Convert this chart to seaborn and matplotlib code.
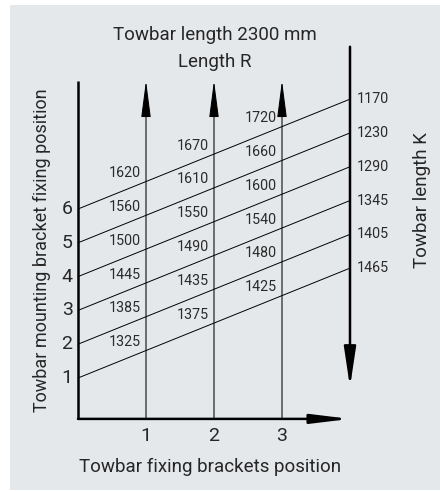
import numpy as np
import pandas as pd
import seaborn as sns
import matplotlib.pyplot as plt
from matplotlib.patches import Rectangle

# Data
positions = [1, 2, 3, 4, 5, 6]                 # mounting bracket fixing position
end_heights = [4.25, 5.25, 6.25, 7.25, 8.25, 9.25]  # where each line meets the K axis
bracket_pos = [1, 2, 3]                        # fixing brackets position
length_r = [
    [1325, 1375, 1425],
    [1385, 1435, 1480],
    [1445, 1490, 1540],
    [1500, 1550, 1600],
    [1560, 1610, 1660],
    [1620, 1670, 1720],
]
length_k = [1465, 1405, 1345, 1290, 1230, 1170]

sns.set_theme(style="white")
plt.rcParams['font.family'] = ['Roboto', 'DejaVu Sans']

BG = '#e5e8eb'
X_END = 4.0
AX_Y = -0.21
BIG = 13.5
SMALL = 10.3

fig = plt.figure(figsize=(4.4, 4.91), dpi=100)
fig.patch.set_facecolor('white')

ax = fig.add_axes([0, 0, 1, 1])
ax.set_facecolor('none')
ax.set_xlim(-78 / 68, (440 - 78) / 68)
ax.set_ylim(-(491 - 411.8) / 33.8, 411.8 / 33.8)
ax.axis('off')

# grey panel behind everything
ax.add_patch(Rectangle((10 / 440, 1 / 491), 430 / 440, 485 / 491,
                       transform=fig.transFigure, facecolor=BG,
                       edgecolor='none', zorder=-5, clip_on=False))

# slanted lines
rows = []
for p, e in zip(positions, end_heights):
    rows.append({'x': 0.0, 'y': p, 'pos': p})
    rows.append({'x': X_END, 'y': e, 'pos': p})
df = pd.DataFrame(rows)
sns.lineplot(data=df, x='x', y='y', units='pos', estimator=None,
             color='black', lw=0.7, ax=ax, legend=False)

def arrow(x0, y0, x1, y1, lw, hl, hw):
    ax.annotate('', xy=(x1, y1), xytext=(x0, y0),
                arrowprops=dict(arrowstyle=f'-|>,head_length={hl},head_width={hw}',
                                color='black', lw=lw, shrinkA=0, shrinkB=0,
                                mutation_scale=10))

# axes
ax.plot([0, 0], [AX_Y, 9.8], color='black', lw=1.8, solid_capstyle='butt')
arrow(0, AX_Y, X_END, AX_Y, 1.8, 2.3, 0.28)
# vertical arrows for bracket positions
for c in bracket_pos:
    arrow(c, AX_Y, c, 9.8, 0.75, 2.3, 0.3)
# down arrow for length K
arrow(X_END, 10.8, X_END, 0.73, 1.8, 2.4, 0.36)

# labels on the lines (length R)
for p, e, vals in zip(positions, end_heights, length_r):
    for c, v in zip(bracket_pos, vals):
        xc = c - 0.31
        yc = p + (e - p) * xc / X_END + 0.5
        ax.text(xc, yc, str(v), ha='center', va='center', fontsize=SMALL,
                color='#2a2a2a')

# length K labels
for e, v in zip(end_heights, length_k):
    ax.text(X_END + 0.1, e, str(v), ha='left', va='center', fontsize=SMALL,
            color='#2a2a2a')

# tick labels
for p in positions:
    ax.text(-0.08, p, str(p), ha='right', va='center', fontsize=BIG + 0.5)
for c in bracket_pos:
    ax.text(c, -0.72, str(c), ha='center', va='center', fontsize=BIG + 0.5)

# titles
ax.text(2.01, 11.15, 'Towbar length 2300 mm', ha='center', va='center', fontsize=BIG)
ax.text(2.01, 10.35, 'Length R', ha='center', va='center', fontsize=BIG)
ax.text(-0.53, 4.79, 'Towbar mounting bracket fixing position', ha='center',
        va='center', rotation=90, fontsize=BIG - 0.5)
ax.text(5.06, 6.27, 'Towbar length K', ha='center', va='center',
        rotation=90, fontsize=BIG)
ax.text(1.94, -1.63, 'Towbar fixing brackets position', ha='center',
        va='center', fontsize=BIG)

fig.savefig('out.png', dpi=100, facecolor='white')
